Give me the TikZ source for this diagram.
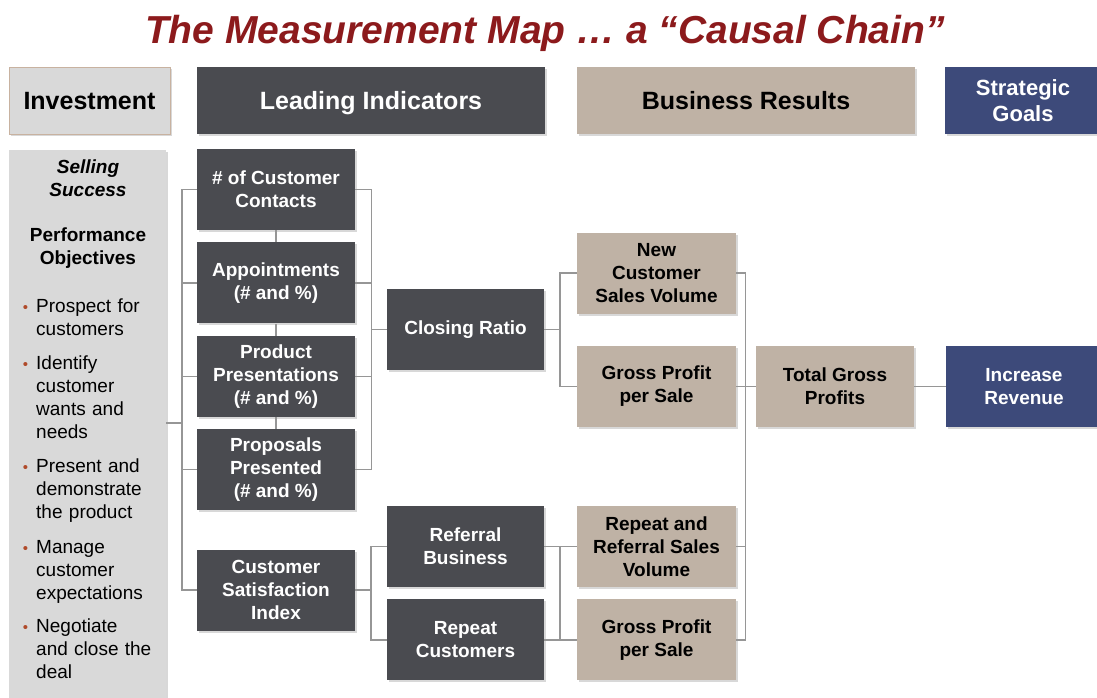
\documentclass[tikz,border=0pt]{standalone}
\usepackage{fontspec}
\setmainfont{Liberation Sans}
\usetikzlibrary{positioning, shadows}
\definecolor{chainred}{RGB}{140, 26, 28}
\definecolor{leaddark}{RGB}{74, 75, 80}
\definecolor{resulttan}{RGB}{191, 178, 165}
\definecolor{goalblue}{RGB}{61, 74, 122}
\definecolor{investgray}{RGB}{217, 217, 217}
\definecolor{investedge}{RGB}{200, 178, 160}
\definecolor{linkgray}{RGB}{150, 150, 150}
\definecolor{bulletred}{RGB}{176, 74, 42}

\tikzset{
  softshadow/.style={drop shadow={shadow xshift=2pt, shadow yshift=-2pt, opacity=0.3}},
  mapbox/.style={rectangle, softshadow, minimum width=158pt, minimum height=81pt, inner sep=2pt,
    align=center, font=\fontsize{19}{23}\selectfont\bfseries},
  leadbox/.style={mapbox, fill=leaddark, text=white},
  resultbox/.style={mapbox, fill=resulttan, text=black},
  goalbox/.style={mapbox, fill=goalblue, text=white},
  headbox/.style={rectangle, softshadow, minimum height=67pt, inner sep=2pt, align=center,
    text height=21pt, text depth=2pt, font=\fontsize{25}{28}\selectfont\bfseries},
  objtext/.style={anchor=north west, inner sep=0pt, text width=128pt, align=left,
    font=\fontsize{19}{23}\selectfont},
  link/.style={draw=linkgray, line width=1.4pt},
}
\newcommand{\objbullet}{\llap{\textcolor{bulletred}{\fontsize{15}{15}\selectfont\textbullet}\hspace{8pt}}}

\begin{document}
\begin{tikzpicture}[x=1pt, y=-1pt]
  \path[fill=white, use as bounding box] (0,0) rectangle (1097,698);

  \node[font=\fontsize{39}{42}\selectfont\bfseries\itshape, text=chainred] (maptitle) at (545,33)
    {The Measurement Map … a “Causal Chain”};

  % column heads
  \node[headbox, fill=investgray, draw=investedge, minimum width=161pt] (investhead) at (89.5,100.5) {Investment};
  \node[headbox, fill=leaddark, text=white, minimum width=348pt] (leadhead) at (371,100.5) {Leading Indicators};
  \node[headbox, fill=resulttan, minimum width=338pt] (resulthead) at (746,100.5) {Business Results};
  \node[headbox, fill=goalblue, text=white, minimum width=156pt, text height=, text depth=,
    font=\fontsize{22}{26}\selectfont\bfseries] (goalhead) at (1023,100.5) {Strategic\\Goals};

  % investment panel
  \node[softshadow, fill=investgray, minimum width=157pt, minimum height=560pt, anchor=north west, inner sep=0pt]
    (objpanel) at (9,150) {};
  \node[align=center, font=\fontsize{19}{23}\selectfont\bfseries\itshape] (selling) at (88,178.5) {Selling\\Success};
  \node[align=center, font=\fontsize{19}{23}\selectfont\bfseries] (perfobj) at (88,248) {Performance\\Objectives};
  \foreach \yy/\txt [count=\i] in {
      306/{Prospect for\\customers},
      363/{Identify\\customer\\wants and\\needs},
      466/{Present and\\demonstrate\\the product},
      547/{Manage\\customer\\expectations},
      626/{Negotiate\\and close the\\deal}}
    \node[objtext] (obj\i) at (36,\yy-9.5) {\strut\objbullet\txt};

  % leading indicators
  \node[leadbox] (contacts) at (276,189.5) {\# of Customer\\Contacts};
  \node[leadbox, below=12pt of contacts] (appts) {Appointments\\(\# and \%)};
  \node[leadbox, below=12pt of appts] (product) {Product\\Presentations\\(\# and \%)};
  \node[leadbox, below=12pt of product] (proposals) {Proposals\\Presented\\(\# and \%)};
  \node[leadbox] (csi) at (276,590) {Customer\\Satisfaction\\Index};
  \node[leadbox, minimum width=157pt] (closing) at (465.5,329.5) {Closing Ratio};
  \node[leadbox, minimum width=157pt] (referral) at (465.5,546.5) {Referral\\Business};
  \node[leadbox, minimum width=157pt, below=12pt of referral] (repeat) {Repeat\\Customers};

  % business results
  \node[resultbox, minimum width=159pt] (newcust) at (656.5,273) {New\\Customer\\Sales Volume};
  \node[resultbox, minimum width=159pt, below=32pt of newcust] (gpnew) {Gross Profit\\per Sale};
  \node[resultbox, minimum width=159pt] (rrsv) at (656.5,546.5) {Repeat and\\Referral Sales\\Volume};
  \node[resultbox, minimum width=159pt, below=12pt of rrsv] (gprepeat) {Gross Profit\\per Sale};
  \node[resultbox] (total) at (835,386.5) {Total Gross\\Profits};

  % strategic goal
  \node[goalbox, minimum width=156pt] (increase) at (1024,386.5) {Increase\\Revenue};

  % connectors
  \draw[link] (objpanel.east |- 0,423) -- (182,423);
  \draw[link] (contacts.west) -- ++(-15,0) |- (csi.west);
  \foreach \n in {appts, product, proposals}
    \draw[link] (\n.west) -- ++(-15,0);
  \draw[link] (contacts.south) -- (appts.north);
  \draw[link] (appts.south) -- (product.north);
  \draw[link] (product.south) -- (proposals.north);

  \draw[link] (contacts.east) -- ++(16,0) |- (proposals.east);
  \foreach \n in {appts, product}
    \draw[link] (\n.east) -- ++(16,0);
  \draw[link] (closing.west) -- ++(-16,0);

  \draw[link] (closing.east) -- ++(16,0);
  \draw[link] (newcust.west) -- ++(-17,0) |- (gpnew.west);

  \draw[link] (csi.east) -- ++(16,0);
  \draw[link] (referral.west) -- ++(-16,0) |- (repeat.west);
  \draw[link] (referral.east) -- (rrsv.west);
  \draw[link] (repeat.east) -- (gprepeat.west);
  \path (rrsv.west) ++(-17,0) coordinate (rrbus);
  \draw[link] (rrbus) -- (rrbus |- gprepeat.west);

  \draw[link] (newcust.east) -- ++(9,0) |- (gprepeat.east);
  \foreach \n in {gpnew, rrsv}
    \draw[link] (\n.east) -- ++(9,0);
  \draw[link] (total.west) -- ++(-11,0);
  \draw[link] (total.east) -- (increase.west);
\end{tikzpicture}
\end{document}
